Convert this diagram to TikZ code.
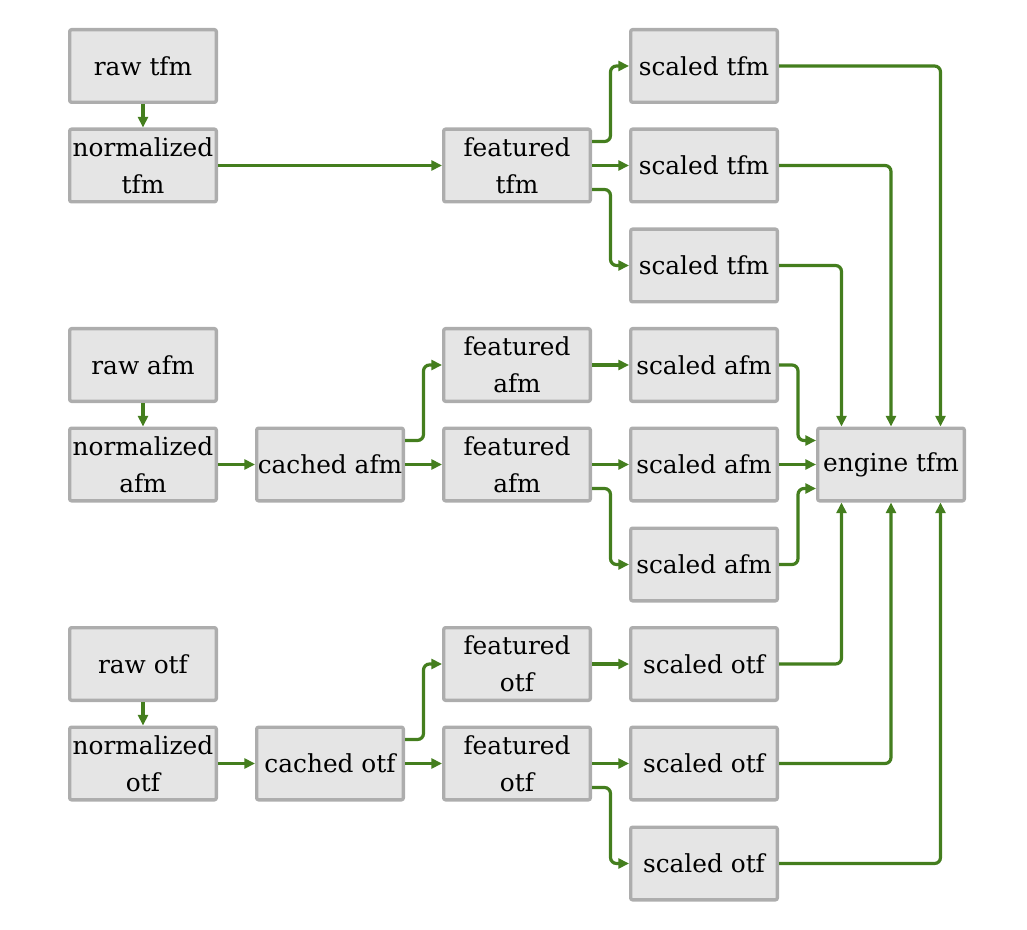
\documentclass[tikz,border=0pt]{standalone}
\usepackage{fontspec}
\setmainfont{DejaVu Serif}
\usetikzlibrary{arrows.meta,calc}
\definecolor{boxfill}{HTML}{E5E5E5}
\definecolor{boxline}{HTML}{ADADAD}
\definecolor{arrgreen}{HTML}{447E1E}
\tikzset{
  box/.style={draw=boxline, fill=boxfill, line width=2.5pt, rounded corners=1.5pt,
    minimum width=110pt, minimum height=54.5pt, inner sep=0.5pt, align=center,
    font=\fontsize{18.6}{27.5}\selectfont},
  arr/.style={draw=arrgreen, line width=2.4pt, rounded corners=4.5pt,
    -{Triangle[length=8pt,width=7.5pt]}},
}
\begin{document}
\begin{tikzpicture}[x=0.75pt,y=-0.75pt]
\useasboundingbox (0,0) rectangle (1027,930);
% tfm
\node[box] (rt) at (143,66) {raw tfm};
\node[box] (nt) at (143,165.5) {normalized\\tfm};
\node[box] (ft) at (517,165.5) {featured\\tfm};
\node[box] (st1) at (704,66) {scaled tfm};
\node[box] (st2) at (704,165.5) {scaled tfm};
\node[box] (st3) at (704,265.5) {scaled tfm};
% afm
\node[box] (ra) at (143,365) {raw afm};
\node[box] (na) at (143,464.5) {normalized\\afm};
\node[box] (ca) at (330,464.5) {cached afm};
\node[box] (fa1) at (517,365) {featured\\afm};
\node[box] (fa2) at (517,464.5) {featured\\afm};
\node[box] (sa1) at (704,365) {scaled afm};
\node[box] (sa2) at (704,464.5) {scaled afm};
\node[box] (sa3) at (704,564.5) {scaled afm};
% otf
\node[box] (ro) at (143,664) {raw otf};
\node[box] (no) at (143,763.5) {normalized\\otf};
\node[box] (co) at (330,763.5) {cached otf};
\node[box] (fo1) at (517,664) {featured\\otf};
\node[box] (fo2) at (517,763.5) {featured\\otf};
\node[box] (so1) at (704,664) {scaled otf};
\node[box] (so2) at (704,763.5) {scaled otf};
\node[box] (so3) at (704,863.5) {scaled otf};
% engine
\node[box] (eng) at (891,464.5) {engine tfm};

% tfm connectors
\draw[arr] (rt) -- (nt);
\draw[arr] (nt) -- (ft);
\draw[arr] ($(ft.east)+(0,-24)$) -- ++(18.5,0) |- (st1.west);
\draw[arr] (ft) -- (st2);
\draw[arr] ($(ft.east)+(0,24)$) -- ++(18.5,0) |- (st3.west);
% afm connectors
\draw[arr] (ra) -- (na);
\draw[arr] (na) -- (ca);
\draw[arr] ($(ca.east)+(0,-24)$) -- ++(18.5,0) |- (fa1.west);
\draw[arr] (ca) -- (fa2);
\draw[arr] (fa1) -- (sa1);
\draw[arr] (fa2) -- (sa2);
\draw[arr] ($(fa2.east)+(0,24)$) -- ++(18.5,0) |- (sa3.west);
% otf connectors
\draw[arr] (ro) -- (no);
\draw[arr] (no) -- (co);
\draw[arr] ($(co.east)+(0,-24)$) -- ++(18.5,0) |- (fo1.west);
\draw[arr] (co) -- (fo2);
\draw[arr] (fo1) -- (so1);
\draw[arr] (fo2) -- (so2);
\draw[arr] ($(fo2.east)+(0,24)$) -- ++(18.5,0) |- (so3.west);
% to engine
\draw[arr] (st1.east) -| ($(eng.north)+(49.5,0)$);
\draw[arr] (st2.east) -| (eng.north);
\draw[arr] (st3.east) -| ($(eng.north)+(-49.5,0)$);
\draw[arr] (sa1.east) -- ++(19,0) |- ($(eng.west)+(0,-24)$);
\draw[arr] (sa2) -- (eng);
\draw[arr] (sa3.east) -- ++(19,0) |- ($(eng.west)+(0,24)$);
\draw[arr] (so1.east) -| ($(eng.south)+(-49.5,0)$);
\draw[arr] (so2.east) -| (eng.south);
\draw[arr] (so3.east) -| ($(eng.south)+(49.5,0)$);
\end{tikzpicture}
\end{document}
